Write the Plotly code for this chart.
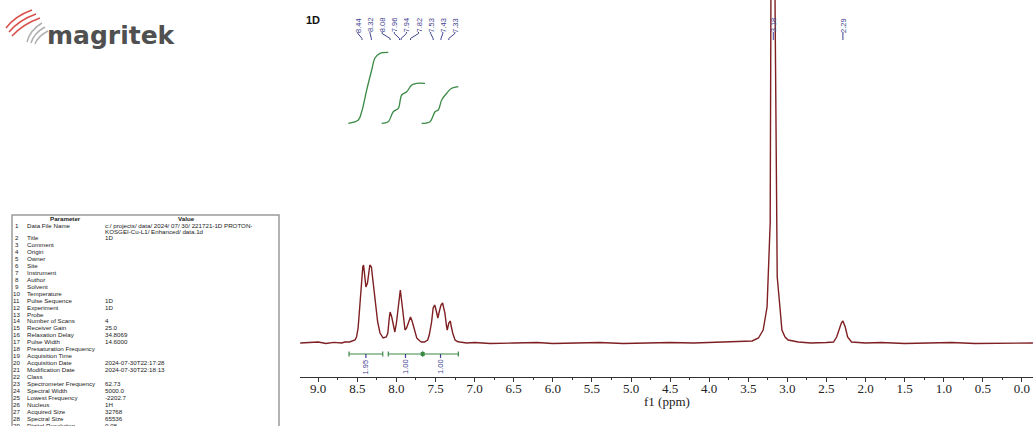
import plotly.graph_objects as go

# ---------------- data ----------------
ppm = [9.23, 9.10, 9.00, 8.90, 8.80, 8.70, 8.66, 8.60, 8.55, 8.53, 8.51, 8.49, 8.47, 8.45, 8.43, 8.42,
       8.40, 8.39, 8.37, 8.35, 8.34, 8.32, 8.30, 8.27, 8.24, 8.21, 8.17, 8.13, 8.11, 8.09, 8.08,
       8.06, 8.05, 8.03, 8.02, 8.00, 7.98, 7.96, 7.95, 7.93, 7.92, 7.90, 7.89, 7.87, 7.85, 7.83,
       7.82, 7.80, 7.78, 7.76, 7.74, 7.70, 7.68, 7.64, 7.60, 7.58, 7.56, 7.55, 7.53, 7.51, 7.49,
       7.47, 7.45, 7.43, 7.41, 7.40, 7.38, 7.36, 7.35, 7.33, 7.31, 7.30, 7.28, 7.25, 7.22, 7.19,
       7.10, 7.00, 6.80, 6.50, 6.20, 6.00, 5.70, 5.40, 5.10, 4.80, 4.50, 4.20, 3.90, 3.60, 3.45,
       3.37, 3.31, 3.26, 3.24, 3.22, 3.21, 3.185, 3.16, 3.14, 3.13, 3.10, 3.07, 3.03, 2.99, 2.86,
       2.70, 2.50, 2.41, 2.37, 2.34, 2.31, 2.29, 2.26, 2.23, 2.18, 2.00, 1.80, 1.50, 1.20, 0.90,
       0.60, 0.30, 0.00, -0.14]
intensity = [0.000, 0.008, 0.010, -0.005, 0.006, 0.000, 0.010, 0.010, 0.020, 0.030, 0.060, 0.150, 0.350, 0.580, 0.760, 0.780,
             0.650, 0.560, 0.600, 0.740, 0.780, 0.760, 0.620, 0.380, 0.210, 0.100, 0.050, 0.060, 0.100, 0.260, 0.310,
             0.260, 0.220, 0.130, 0.110, 0.200, 0.350, 0.520, 0.530, 0.400, 0.330, 0.180, 0.130, 0.150, 0.200, 0.250,
             0.260, 0.220, 0.160, 0.090, 0.050, 0.020, 0.010, 0.010, 0.030, 0.080, 0.170, 0.210, 0.350, 0.380, 0.320,
             0.250, 0.320, 0.380, 0.400, 0.360, 0.300, 0.170, 0.130, 0.200, 0.220, 0.170, 0.100, 0.030, 0.015, 0.010,
             0.000, 0.005, -0.005, 0.000, 0.005, -0.005, 0.000, 0.005, -0.005, 0.000, 0.005, 0.000, 0.005, 0.010, 0.020,
             0.050, 0.130, 0.360, 0.760, 1.200, 3.600, 8.000, 3.600, 1.500, 0.660, 0.400, 0.130, 0.060, 0.030, 0.010,
             0.000, 0.005, 0.010, 0.060, 0.130, 0.200, 0.220, 0.160, 0.060, 0.010, 0.000, 0.005, -0.005, 0.000, 0.005,
             -0.005, 0.000, 0.005, 0.000]

peak_ppm = [8.44, 8.32, 8.08, 7.96, 7.94, 7.82, 7.53, 7.43, 7.33, 3.18, 2.29]
peak_text = ["8.44", "8.32", "8.08", "7.96", "7.94", "7.82", "7.53", "7.43", "7.33", "3.18", "2.29"]

integral_ranges = [(8.606, 8.175), (8.104, 7.664), (7.664, 7.208)]
integral_text = ["1.95", "1.00", "1.00"]

int1_ppm = [8.615, 8.487, 8.444, 8.380, 8.316, 8.274, 8.210, 8.104]
int1_val = [2.197, 2.230, 2.313, 2.530, 2.730, 2.850, 2.897, 2.907]
int2_ppm = [8.188, 8.104, 8.040, 7.976, 7.932, 7.868, 7.804, 7.741, 7.634]
int2_val = [2.197, 2.213, 2.313, 2.347, 2.480, 2.513, 2.580, 2.597, 2.597]
int3_ppm = [7.677, 7.570, 7.506, 7.464, 7.421, 7.357, 7.293, 7.208]
int3_val = [2.197, 2.213, 2.313, 2.330, 2.430, 2.497, 2.547, 2.563]

param_names = ["Data File Name", "Title", "Comment", "Origin", "Owner", "Site", "Instrument", "Author",
               "Solvent", "Temperature", "Pulse Sequence", "Experiment", "Probe", "Number of Scans",
               "Receiver Gain", "Relaxation Delay", "Pulse Width", "Presaturation Frequency",
               "Acquisition Time", "Acquisition Date", "Modification Date", "Class",
               "Spectrometer Frequency", "Spectral Width", "Lowest Frequency", "Nucleus",
               "Acquired Size", "Spectral Size", "Digital Resolution"]
param_values = ["c:/ projects/ data/ 2024/ 07/ 30/ 221721-1D PROTON-|KOSGEI-Cu-L1/ Enhanced/ data.1d",
                "1D", "", "", "", "", "", "", "", "", "1D", "1D", "", "4", "25.0", "34.8069", "14.6000",
                "", "", "2024-07-30T22:17:28", "2024-07-30T22:18:13", "", "62.73", "5000.0", "-2202.7",
                "1H", "32768", "65536", "0.08"]

x_ticks = [9.0, 8.5, 8.0, 7.5, 7.0, 6.5, 6.0, 5.5, 5.0, 4.5, 4.0, 3.5, 3.0, 2.5, 2.0, 1.5, 1.0, 0.5, 0.0]

# ---------------- layout helpers ----------------
W, H = 1033, 426
PB = 377  # bottom of plot area in pixels
XL = 300  # left of plot area in pixels


def pxx(x):
    return x / W


def pxy(y):
    return (PB - y) / PB


SPEC = "#7e1f22"
GREEN = "#3a8a45"
BLUE = "#3c4290"

fig = go.Figure()

fig.add_trace(go.Scatter(x=ppm, y=intensity, mode="lines",
                         line=dict(color=SPEC, width=1.4), hoverinfo="skip", showlegend=False))

for xs, ys in [(int1_ppm, int1_val), (int2_ppm, int2_val), (int3_ppm, int3_val)]:
    fig.add_trace(go.Scatter(x=xs, y=ys, mode="lines", line=dict(color=GREEN, width=1.3, shape="spline"),
                             hoverinfo="skip", showlegend=False))

# integration bar
BAR_Y = -0.11
bx, by = [], []
for a, b in integral_ranges:
    bx += [a, b, None, a, a, None, b, b, None]
    by += [BAR_Y, BAR_Y, None, BAR_Y - 0.025, BAR_Y + 0.025, None, BAR_Y - 0.025, BAR_Y + 0.025, None]
fig.add_trace(go.Scatter(x=bx, y=by, mode="lines", line=dict(color=GREEN, width=1.2),
                         hoverinfo="skip", showlegend=False))
fig.add_trace(go.Scatter(x=[integral_ranges[1][1]], y=[BAR_Y], mode="markers",
                         marker=dict(symbol="square", size=4, color=GREEN), hoverinfo="skip", showlegend=False))

cx, cy = [], []
for (a, b), t in zip(integral_ranges, integral_text):
    m = (a + b) / 2
    cx += [m, m, None]
    cy += [BAR_Y, BAR_Y - 0.04, None]
    fig.add_annotation(x=m, y=-0.235, text=t, textangle=-90, showarrow=False,
                       font=dict(family="Liberation Sans", size=7.5, color=BLUE))
fig.add_trace(go.Scatter(x=cx, y=cy, mode="lines", line=dict(color=BLUE, width=1.2),
                         hoverinfo="skip", showlegend=False))

# peak labels: spread clusters evenly
SPACING = 0.155
groups = []
for p in peak_ppm:
    if groups and groups[-1][-1] - p < 0.6:
        groups[-1].append(p)
    else:
        groups.append([p])
label_x = []
for g in groups:
    c = sum(g) / len(g)
    n = len(g)
    for i in range(n):
        label_x.append(c + ((n - 1) / 2 - i) * SPACING)

lx, ly = [], []
for p, l, t in zip(peak_ppm, label_x, peak_text):
    lx += [l, l, p, p, None]
    ly += [3.11, 3.095, 3.045, 3.03, None]
    fig.add_annotation(x=l, y=3.18, text=t, textangle=-90, showarrow=False,
                       font=dict(family="Liberation Sans", size=7.5, color=BLUE))
fig.add_trace(go.Scatter(x=lx, y=ly, mode="lines", line=dict(color=BLUE, width=1),
                         hoverinfo="skip", showlegend=False))

# "1D" label
fig.add_annotation(xref="paper", yref="paper", x=pxx(313), y=pxy(20), text="<b>1D</b>", showarrow=False,
                   xanchor="center", yanchor="middle",
                   font=dict(family="Liberation Sans", size=11, color="#111"))

# axis title
fig.add_annotation(xref="paper", yref="paper", x=pxx(667), y=pxy(401), text="f1 (ppm)", showarrow=False,
                   xanchor="center", yanchor="middle",
                   font=dict(family="Liberation Serif", size=13, color="#222"))

# logo
fig.add_annotation(xref="paper", yref="paper", x=pxx(111), y=pxy(36), text="<b>magritek</b>", showarrow=False,
                   xanchor="center", yanchor="middle",
                   font=dict(family="DejaVu Sans", size=25, color="#505050"))


def bez(p0, c, p1):
    return (f"M {pxx(p0[0])},{pxy(p0[1])} Q {pxx(c[0])},{pxy(c[1])} {pxx(p1[0])},{pxy(p1[1])}")


red_arcs = [((6, 28), (15, 16), (32, 10)), ((9, 32), (19, 20), (36, 14)), ((12, 36), (23, 24), (40, 18))]
gray_arcs = [((27, 42), (30, 30), (42, 23)), ((31, 43), (34, 33), (45, 27)), ((35, 44), (38, 36), (48, 31))]
for a in red_arcs:
    fig.add_shape(type="path", xref="paper", yref="paper", path=bez(*a),
                  line=dict(color="#d9504a", width=1.5))
for a in gray_arcs:
    fig.add_shape(type="path", xref="paper", yref="paper", path=bez(*a),
                  line=dict(color="#b0b0b0", width=1.5))

# parameter table
fig.add_shape(type="rect", xref="paper", yref="paper", x0=pxx(12), x1=pxx(279), y0=pxy(215), y1=pxy(440),
              line=dict(color="#9a9a9a", width=1.5), fillcolor="white", layer="below")
TF = dict(family="Liberation Sans", size=6.2, color="#1a1a1a")
fig.add_annotation(xref="paper", yref="paper", x=pxx(65), y=pxy(218), text="<b>Parameter</b>",
                   showarrow=False, xanchor="center", yanchor="middle", font=TF)
fig.add_annotation(xref="paper", yref="paper", x=pxx(186), y=pxy(218), text="<b>Value</b>",
                   showarrow=False, xanchor="center", yanchor="middle", font=TF)
for i, (nm, val) in enumerate(zip(param_names, param_values)):
    n = i + 1
    yy = 225.7 if n == 1 else 237.7 + (n - 2) * 6.94
    fig.add_annotation(xref="paper", yref="paper", x=pxx(16.5), y=pxy(yy), text=str(n), showarrow=False,
                       xanchor="center", yanchor="middle", font=TF)
    fig.add_annotation(xref="paper", yref="paper", x=pxx(25), y=pxy(yy), text=nm, showarrow=False,
                       xanchor="left", yanchor="middle", font=TF)
    for k, part in enumerate(val.split("|")):
        if part:
            fig.add_annotation(xref="paper", yref="paper", x=pxx(103), y=pxy(yy + k * 5.6), text=part,
                               showarrow=False, xanchor="left", yanchor="middle", font=TF)

fig.update_layout(
    width=W, height=H,
    margin=dict(l=0, r=0, t=0, b=H - PB, autoexpand=False),
    paper_bgcolor="white", plot_bgcolor="white",
    xaxis=dict(domain=[XL / W, 1], range=[9.233, -0.141], tickvals=x_ticks,
               ticktext=[f"{v:.1f}" for v in x_ticks],
               showgrid=False, zeroline=False, showline=True, linecolor="#333", linewidth=1,
               ticks="outside", ticklen=4, tickcolor="#333", ticklabelstandoff=-5,
               minor=dict(dtick=0.25, ticks="outside", ticklen=2, tickcolor="#333"),
               tickfont=dict(family="Liberation Serif", size=13, color="#222")),
    yaxis=dict(range=[-0.34, 3.43], visible=False, showgrid=False, zeroline=False),
)

fig.write_html("out.html", config={"displayModeBar": False},
               post_script="document.body.style.margin='0';document.body.style.overflow='hidden';"
                           "document.documentElement.style.overflow='hidden';")
